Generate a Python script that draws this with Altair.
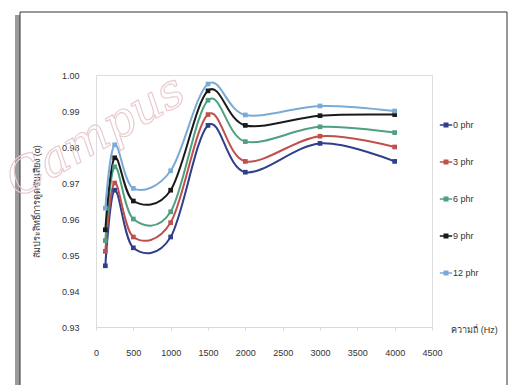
import altair as alt
import pandas as pd

freq = [125, 250, 500, 1000, 1500, 2000, 3000, 4000]
series_names = ["0 phr", "3 phr", "6 phr", "9 phr", "12 phr"]
phr0 = [0.947, 0.968, 0.952, 0.955, 0.986, 0.973, 0.981, 0.976]
phr3 = [0.951, 0.970, 0.955, 0.959, 0.989, 0.976, 0.983, 0.980]
phr6 = [0.954, 0.9745, 0.960, 0.962, 0.993, 0.9815, 0.9856, 0.984]
phr9 = [0.957, 0.977, 0.965, 0.968, 0.9956, 0.986, 0.9887, 0.989]
phr12 = [0.963, 0.9806, 0.9685, 0.9734, 0.9975, 0.9889, 0.9914, 0.990]
colors = ["#2f3f8c", "#c0504d", "#4fa080", "#1a1a1a", "#7aaad6"]
y_ticks = [0.93, 0.94, 0.95, 0.96, 0.97, 0.98, 0.99, 1.00]
x_ticks = [0, 500, 1000, 1500, 2000, 2500, 3000, 3500, 4000, 4500]

rows = []
for name, vals in zip(series_names, [phr0, phr3, phr6, phr9, phr12]):
    for f, v in zip(freq, vals):
        rows.append({"freq": f, "alpha": v, "series": name})
df = pd.DataFrame(rows)

FONT = "Liberation Sans"
xs = alt.Scale(domain=[0, 4500], nice=False)
ys = alt.Scale(domain=[0.93, 1.0], nice=False, zero=False)
cs = alt.Scale(domain=series_names, range=colors)

x_axis = alt.Axis(
    values=x_ticks, format="d", title="ความถี่ (Hz)", grid=False,
    labelOverlap=False, labelFlush=False,
    domainColor="#d9d9d9", tickColor="#d9d9d9", tickSize=3,
    labelPadding=18, labelFontSize=9, labelColor="#333333", labelFont=FONT,
    titleFontSize=9, titleFont=FONT, titleColor="#333333", titleFontWeight="normal",
    titleX=378, titleY=2, titleAlign="center", titleBaseline="middle")
y_axis = alt.Axis(
    values=y_ticks, format=".2f", title="สัมประสิทธิ์การดูดซับเสียง (α)", grid=False,
    labelOverlap=False, labelFlush=False,
    domain=False, ticks=False, labelPadding=17, labelFontSize=9,
    labelColor="#333333", labelFont=FONT,
    titleFontSize=9, titleFont=FONT, titleColor="#333333", titleFontWeight="normal",
    titleX=-60, titleY=126, titleAlign="center", titleBaseline="middle")

legend = alt.Legend(
    title=None, orient="none", legendX=345, legendY=45,
    symbolType="M-1.6,0L1.6,0M-0.45,-0.45L0.45,-0.45L0.45,0.45L-0.45,0.45Z",
    symbolSize=60, symbolStrokeWidth=1.5, rowPadding=27,
    labelFontSize=9, labelColor="#333333", labelFont=FONT, labelOffset=2)

enc = dict(
    x=alt.X("freq:Q", scale=xs, axis=x_axis),
    y=alt.Y("alpha:Q", scale=ys, axis=y_axis),
    color=alt.Color("series:N", scale=cs, sort=series_names, legend=legend),
)

base = alt.Chart(df)
lines = base.mark_line(interpolate="cardinal", strokeWidth=2).encode(**enc)
points = base.mark_point(filled=True, size=22, shape="square", opacity=1).encode(**enc)

frame_df = pd.DataFrame({"k": [0]})
frame = alt.Chart(frame_df).mark_rect(fill="transparent", stroke="#333333", strokeWidth=1).encode(
    x=alt.value(-76), x2=alt.value(411), y=alt.value(-63), y2=alt.value(330))
shadow = alt.Chart(frame_df).mark_rect(fill="#9a9a9a", stroke=None).encode(
    x=alt.value(-81), x2=alt.value(-76), y=alt.value(-60), y2=alt.value(330))

wm_df = pd.DataFrame({"t": ["Campus"]})
wm = alt.Chart(wm_df).mark_text(
    font="DejaVu Serif", fontStyle="italic", fontSize=48, angle=330,
    fill="transparent", stroke="#e7c9cd", strokeWidth=1.1,
    align="center", baseline="middle").encode(
    text="t:N", x=alt.value(0), y=alt.value(62))

chart = alt.layer(shadow, frame, wm, lines, points).properties(
    width=336, height=252,
    autosize=alt.AutoSizeParams(type="none"),
    padding={"left": 96, "top": 75, "right": 77, "bottom": 58},
).configure_view(stroke=None).configure(background="white")

chart.save("out.html", embed_options={"renderer": "svg", "actions": False})
